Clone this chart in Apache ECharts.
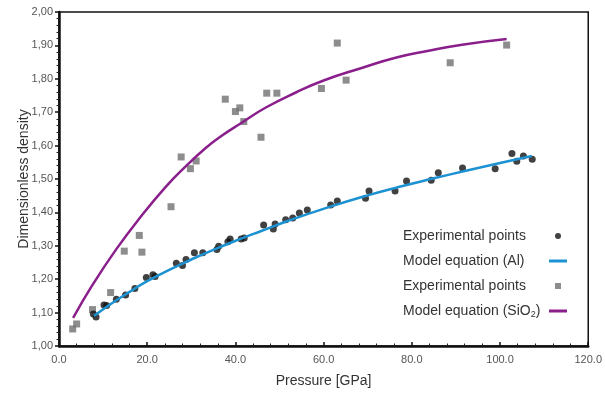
<!DOCTYPE html>
<html>
<head>
<meta charset="utf-8">
<script src="https://cdn.jsdelivr.net/npm/echarts@6/dist/echarts.min.js"></script>
<style>html,body{margin:0;padding:0;background:#fff}#c{width:605px;height:393px}</style>
</head>
<body>
<div id="c"></div>
<script>
// X ticks / Y ticks
var xTicks = [0, 20, 40, 60, 80, 100, 120];
var yTicks = [1.0, 1.1, 1.2, 1.3, 1.4, 1.5, 1.6, 1.7, 1.8, 1.9, 2.0];

// Al experimental points [pressure GPa, dimensionless density]
var alExp = [[7.8,1.096],[8.4,1.087],[10.2,1.123],[10.8,1.121],[13.0,1.140],[15.1,1.153],[17.2,1.172],
  [19.8,1.205],[21.3,1.213],[21.8,1.208],[26.6,1.248],[28.0,1.241],[28.8,1.259],[30.7,1.279],[32.6,1.279],
  [35.8,1.289],[36.2,1.299],[38.3,1.312],[38.8,1.320],[41.3,1.320],[42.0,1.323],[46.4,1.362],[48.6,1.350],
  [49.0,1.365],[51.4,1.378],[53.0,1.383],[54.5,1.398],[56.3,1.407],[61.6,1.422],[63.1,1.434],[69.5,1.442],
  [70.3,1.464],[76.2,1.464],[78.8,1.494],[84.4,1.496],[86.0,1.519],[91.5,1.533],[98.9,1.531],[102.7,1.576],
  [103.8,1.553],[105.3,1.569],[107.3,1.559]];

// Al model equation
var alModel = [[7.9,1.090],[12,1.128],[16,1.162],[20,1.194],[25,1.228],[30,1.259],[35,1.288],[41,1.320],
  [46,1.345],[52,1.375],[61,1.415],[70,1.451],[77,1.476],[85,1.502],[92,1.524],[100,1.548],[107.2,1.569]];

// SiO2 experimental points
var sioExp = [[3.1,1.051],[4.0,1.066],[7.6,1.109],[11.7,1.160],[14.8,1.284],[18.2,1.331],[18.8,1.281],
  [25.4,1.417],[27.7,1.566],[29.8,1.531],[31.1,1.554],[37.7,1.739],[40.0,1.702],[41.0,1.713],[41.9,1.672],
  [45.8,1.625],[47.1,1.757],[49.4,1.757],[59.5,1.771],[63.1,1.907],[65.1,1.796],[88.7,1.848],[101.5,1.901]];

// SiO2 model equation
var sioModel = [[3.2,1.084],[7.7,1.185],[13.0,1.290],[18.3,1.383],[24.3,1.478],[28.9,1.540],[33,1.590],
  [36.4,1.625],[41.6,1.670],[46.9,1.714],[53.7,1.759],[60,1.795],[68.8,1.833],[76.3,1.863],[83.8,1.884],
  [91.4,1.902],[101.5,1.919]];

var seriesNames = ['Exp Al', 'Model Al', 'Exp SiO2', 'Model SiO2'];
var legendTexts = ['Experimental points', 'Model equation (Al)', 'Experimental points', 'Model equation (SiO2)'];

var FONT = 'Liberation Sans, Arial, sans-serif';
var chart = echarts.init(document.getElementById('c'), null, {renderer: 'canvas'});
var linePath = 'path://M0,0H18V3H0Z';
var squarePath = 'path://M0,0H6V6H0Z';

chart.setOption({
  animation: false,
  backgroundColor: '#fff',
  grid: {left: 59, right: 15, top: 12, bottom: 44, show: true, borderColor: '#111', borderWidth: 1.5, backgroundColor: 'transparent'},
  xAxis: {
    type: 'value', min: xTicks[0], max: xTicks[xTicks.length - 1], interval: 20,
    name: 'Pressure [GPa]', nameLocation: 'middle', nameGap: 28,
    nameTextStyle: {fontFamily: FONT, fontSize: 14, color: '#333'},
    axisLine: {lineStyle: {color: '#111', width: 2.5}},
    axisTick: {inside: true, length: 4, lineStyle: {color: '#111', width: 1.5}},
    minorTick: {show: true, splitNumber: 5, length: 2.5, lineStyle: {color: '#222', width: 1}},
    splitLine: {show: false},
    axisLabel: {fontFamily: FONT, fontSize: 11, color: '#555', margin: 8, formatter: function (v) { return v.toFixed(1); }}
  },
  yAxis: {
    type: 'value', min: yTicks[0], max: yTicks[yTicks.length - 1], interval: 0.1,
    name: 'Dimensionless density', nameLocation: 'middle', nameGap: 28, nameRotate: 90, nameMoveOverlap: false,
    nameTextStyle: {fontFamily: FONT, fontSize: 14, color: '#333'},
    axisLine: {lineStyle: {color: '#111', width: 2.5}},
    axisTick: {inside: false, length: 4, lineStyle: {color: '#111', width: 1.5}},
    minorTick: {show: true, splitNumber: 5, length: 2.5, lineStyle: {color: '#222', width: 1}},
    splitLine: {show: false},
    axisLabel: {fontFamily: FONT, fontSize: 11, color: '#555', margin: 6, formatter: function (v) { return v.toFixed(2).replace('.', ','); }}
  },
  legend: [{
    orient: 'vertical', left: 393, top: 223, itemGap: 9, itemWidth: 0, itemHeight: 0, icon: 'rect',
    itemStyle: {opacity: 0}, selectedMode: false,
    data: seriesNames,
    textStyle: {fontFamily: FONT, fontSize: 14, color: '#333', lineHeight: 16,
      rich: {a: {fontFamily: FONT, fontSize: 14, color: '#333', lineHeight: 16}, b: {fontFamily: FONT, fontSize: 9, color: '#333', lineHeight: 16, padding: [7, 0, 0, 0]}}},
    formatter: function (n) {
      var t = legendTexts[seriesNames.indexOf(n)];
      if (t === 'Model equation (SiO2)') return '{a|Model equation (SiO}{b|2}{a|)}';
      return t;
    }
  }, {
    orient: 'vertical', left: 544, top: 223, itemGap: 9, itemWidth: 18, itemHeight: 6, selectedMode: false,
    data: [
      {name: seriesNames[0], icon: 'circle'},
      {name: seriesNames[1], icon: linePath},
      {name: seriesNames[2], icon: squarePath},
      {name: seriesNames[3], icon: linePath}
    ],
    textStyle: {fontFamily: FONT, fontSize: 14, lineHeight: 16},
    formatter: function () { return ' '; }
  }],
  series: [
    {name: seriesNames[2], type: 'scatter', data: sioExp, symbol: 'rect', symbolSize: 7, itemStyle: {color: '#707070'}},
    {name: seriesNames[0], type: 'scatter', data: alExp, symbol: 'circle', symbolSize: 7, itemStyle: {color: '#111'}},
    {name: seriesNames[3], type: 'line', data: sioModel, smooth: true, showSymbol: false, symbol: 'none',
      itemStyle: {color: '#8a1f8c'}, lineStyle: {color: '#8a1f8c', width: 2.5}},
    {name: seriesNames[1], type: 'line', data: alModel, smooth: true, showSymbol: false, symbol: 'none',
      itemStyle: {color: '#1d92d2'}, lineStyle: {color: '#1d92d2', width: 2.5}}
  ]
});
</script>
</body>
</html>
